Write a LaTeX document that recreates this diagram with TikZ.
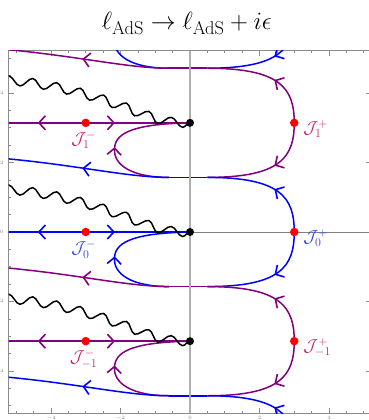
\documentclass[tikz,border=0pt]{standalone}
\usetikzlibrary{arrows.meta,decorations.pathmorphing,decorations.markings}

\definecolor{thpurple}{RGB}{128,0,128}
\definecolor{thblue}{RGB}{0,0,255}
\definecolor{labred}{RGB}{204,34,92}
\definecolor{labblue}{RGB}{45,65,235}
\definecolor{axgray}{RGB}{175,175,175}
\definecolor{framegray}{RGB}{140,140,140}

\begin{document}
\begin{tikzpicture}[x=34.75pt, y=34.75pt,
    >={Straight Barb[length=6.5pt,width=14pt,line width=1.6pt]},
    thimble/.style={line width=1.5pt},
    flow/.style={postaction={decorate}, decoration={markings, mark=at position #1 with {\arrow{>}}}},
    cut/.style={line width=1.5pt, decorate, decoration={snake, segment length=24pt, amplitude=4.5pt}},
    saddle/.style={circle, fill=red, inner sep=0pt, minimum size=8.5pt},
    endpt/.style={circle, fill=black, inner sep=0pt, minimum size=8pt},
    lab/.style={inner sep=0pt, font=\fontsize{18}{20}\selectfont}]
    \useasboundingbox (-5.4676,-5.4101) rectangle (5.1511,6.6763);

    % Title
    \node (title) at (-0.09,6.0) {\fontsize{24}{28}\selectfont
        $\ell_{\mbox{\fontsize{18.5}{18.5}\selectfont AdS}} \to \ell_{\mbox{\fontsize{18.5}{18.5}\selectfont AdS}} + i\epsilon$};

    % Frame and ticks
    \draw[framegray, line width=0.8pt] (-5.22,-5.22) rectangle (5.22,5.22);
    \foreach \t in {-5,-4.5,...,5.1} {
        \draw[framegray, line width=0.6pt] (\t,-5.22) -- ++(0,0.08);
        \draw[framegray, line width=0.6pt] (\t,5.22) -- ++(0,-0.08);
        \draw[framegray, line width=0.6pt] (-5.22,\t) -- ++(0.08,0);
        \draw[framegray, line width=0.6pt] (5.22,\t) -- ++(-0.08,0);
    }
    \foreach \t in {-4,-2,...,4} {
        \draw[framegray, line width=0.6pt] (\t,-5.22) -- ++(0,0.15);
        \draw[framegray, line width=0.6pt] (\t,5.22) -- ++(0,-0.15);
        \draw[framegray, line width=0.6pt] (-5.22,\t) -- ++(0.15,0);
        \draw[framegray, line width=0.6pt] (5.22,\t) -- ++(-0.15,0);
        \node[gray, font=\tiny, anchor=north, inner sep=0pt] (xt\t) at (\t,-5.3) {$\t$};
        \node[gray, font=\tiny, anchor=east, inner sep=0pt] (yt\t) at (-5.36,\t) {$\t$};
    }

    \begin{scope}
        \clip (-5.22,-5.22) rectangle (5.22,5.22);
        \draw[gray, line width=0.7pt] (-5.22,0) -- (5.22,0);

        % Thimbles, one period at a time
        \foreach \n/\c in {2/thblue,1/thpurple,0/thblue,-1/thpurple,-2/thblue} {
            \pgfmathsetmacro\y{\n*pi}
            \pgfmathsetmacro\yu{\y+pi/2}
            \pgfmathsetmacro\yd{\y-pi/2}
            % J^- : along the line
            \draw[thimble, color=\c] (-5.4,\y) -- (0,\y);
            \draw[thimble, color=\c, ->] (-3,\y) -- (-4.38,\y);
            \draw[thimble, color=\c, ->] (-3,\y) -- (-2.16,\y);
            % J^+ : upper branch
            \draw[thimble, color=\c, flow=0.42] (3,\y) .. controls (3,\y+1) and (2.6,\yu) .. (0.5,\yu);
            \draw[thimble, color=\c] (0.5,\yu) -- (-0.6,\yu);
            \draw[thimble, color=\c, flow=0.52] (-0.6,\yu) .. controls (-1.8,\yu) and (-3.2,\yu+0.35) .. (-5.4,\yu+0.55);
            % J^+ : lower branch
            \draw[thimble, color=\c, flow=0.42] (3,\y) .. controls (3,\y-1) and (2.6,\yd) .. (0.5,\yd);
            \draw[thimble, color=\c] (0.5,\yd) -- (-0.6,\yd);
            \draw[thimble, color=\c, ->] (-0.6,\yd) .. controls (-1.7,\yd) and (-2.2,\y-1.2) .. (-2.17,\y-0.7);
            \draw[thimble, color=\c] (-2.17,\y-0.72) .. controls (-2.14,\y-0.25) and (-1.5,\y-0.03) .. (0,\y);
        }

        \draw[axgray, line width=1.4pt] (0,-5.22) -- (0,5.22);

        % Branch cuts
        \foreach \n in {1,0,-1} {
            \pgfmathsetmacro\y{\n*pi}
            \draw[cut] (0,\y) .. controls (-0.8,\y) and (-1.3,\y+0.35) .. (-2.6,\y+0.75)
                .. controls (-3.8,\y+1.1) and (-4.6,\y+1.2) .. (-5.5,\y+1.25);
        }
    \end{scope}

    % Saddles and end points
    \foreach \n/\lc in {1/labred,0/labblue,-1/labred} {
        \pgfmathsetmacro\y{\n*pi}
        \node[endpt] (E\n) at (0,\y) {};
        \node[saddle] (Jm\n) at (-3,\y) {};
        \node[saddle] (Jp\n) at (3,\y) {};
        \node[lab, text=\lc, anchor=north] (Lm\n) at (-3.06,\y-0.24) {$\mathcal{J}_{\n}^{-}$};
        \node[lab, text=\lc, anchor=west] (Lp\n) at (3.26,\y-0.18) {$\mathcal{J}_{\n}^{+}$};
    }
\end{tikzpicture}
\end{document}
